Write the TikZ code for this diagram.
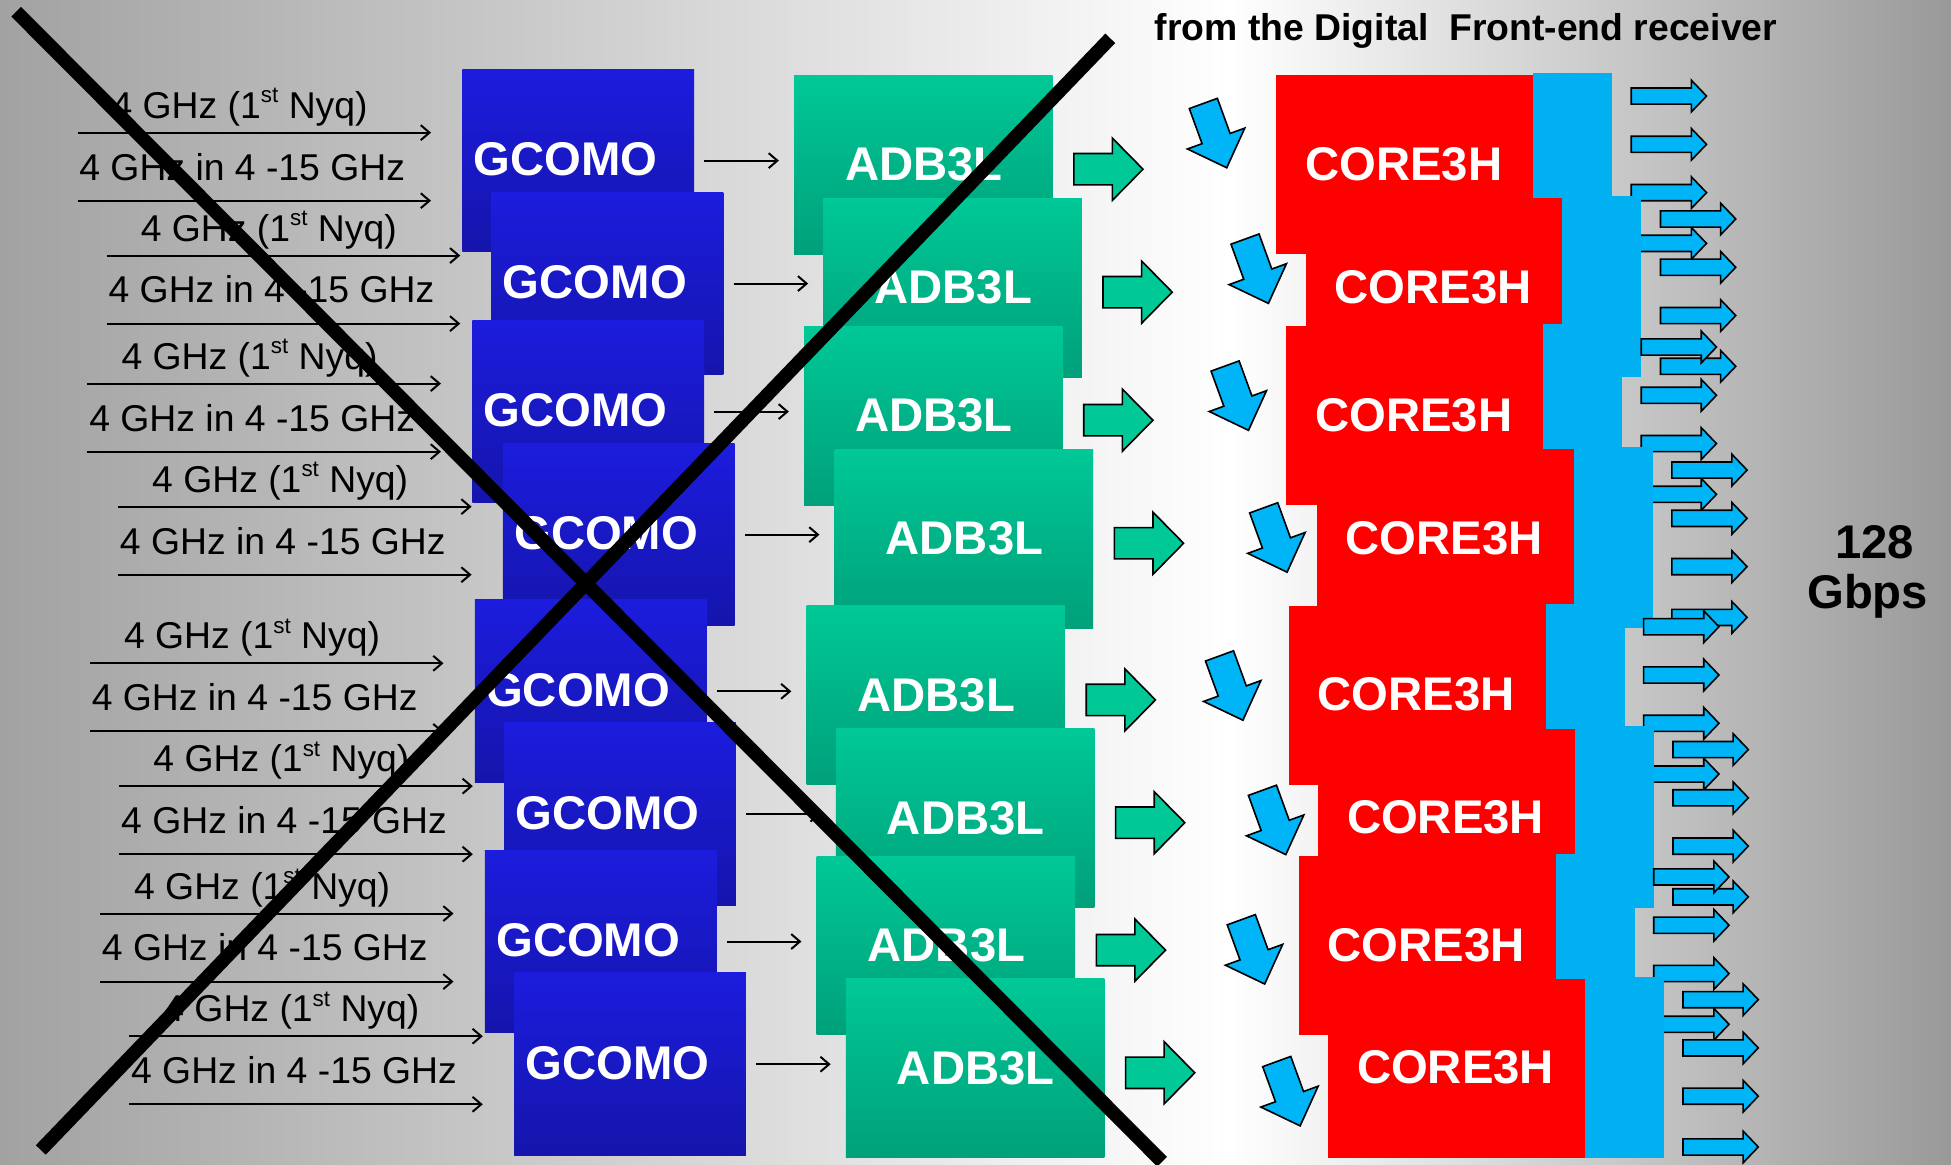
\documentclass[tikz,border=0pt]{standalone}
\usepackage{fontspec}
\setmainfont{Liberation Sans}
\usetikzlibrary{arrows.meta}

\definecolor{gcomoTop}{HTML}{1C1CDE}
\definecolor{gcomoBot}{HTML}{1515AC}
\definecolor{adbTop}{HTML}{00C896}
\definecolor{adbBot}{HTML}{00A07A}
\definecolor{coreRed}{HTML}{FF0000}
\definecolor{coreBlue}{HTML}{00B0F0}
\definecolor{arrowBlue}{HTML}{00B4F8}
\definecolor{arrowGreen}{HTML}{00C896}
\definecolor{bgEdgeL}{HTML}{A2A2A2}
\definecolor{bgEdgeR}{HTML}{999999}

\tikzset{
  feed/.style={line width=1.6pt, -{Straight Barb[length=7pt,width=12pt]}},
  gbox/.style={anchor=north west, inner sep=0pt, minimum width=186.3pt, minimum height=146.8pt, top color=gcomoTop, bottom color=gcomoBot},
  abox/.style={anchor=north west, inner sep=0pt, minimum width=207.7pt, minimum height=143.7pt, top color=adbTop, bottom color=adbBot},
  cbox/.style={anchor=north west, inner sep=0pt, minimum width=206.4pt, minimum height=143.7pt, fill=coreRed},
  cstrip/.style={anchor=north west, inner sep=0pt, minimum width=63.5pt, minimum height=145.6pt, fill=coreBlue},
  boxtext/.style={anchor=base west, inner sep=0pt, text=white, font=\fontsize{38}{38}\selectfont\bfseries},
  intext/.style={anchor=base west, inner sep=0pt, font=\fontsize{30}{30}\selectfont},
  garrow/.style={draw=black, line width=1.3pt, fill=arrowGreen},
  barrow/.style={draw=black, line width=1.3pt, fill=arrowBlue},
  cross/.style={line width=11pt, draw=black},
  headline/.style={anchor=base west, inner sep=0pt, font=\fontsize{30}{30}\selectfont\bfseries},
  ratetext/.style={anchor=base, inner sep=0pt, font=\fontsize{38}{38}\selectfont\bfseries},
}

\begin{document}
\begin{tikzpicture}[x=1pt, y=-1pt]
\useasboundingbox (0,0) rectangle (1568,936);

% background
\shade[left color=bgEdgeL, right color=white] (0,0) rectangle (990,936);
\shade[left color=white, right color=bgEdgeR] (990,0) rectangle (1568,936);

% eight receiver chains, each a shifted copy of the first
\foreach \dx/\dy/\bx/\by [count=\k] in {0/0/976.5/109, 23.5/98.8/1010/218, 8/201.7/994/320, 32.6/300.6/1025/434, 10/426.5/989.5/553, 33.6/525.2/1024/661, 18.1/627.6/1007/765, 41.6/726.2/1035.5/879} {
  \begin{scope}[shift={(\dx,\dy)}]
    % inputs
    \node[intext] (nyq\k) at (89.5,95) {4 GHz (1\raisebox{0.42em}{\fontsize{18}{18}\selectfont st} Nyq)};
    \node[intext] (band\k) at (63.6,144.7) {4 GHz in 4 -15 GHz};
    \coordinate (srcA\k) at (62.3,106.6);
    \coordinate (srcB\k) at (62.3,161.3);
    % GCOMO
    \node[gbox] (g\k) at (371.4,55.5) {};
    \node[boxtext] (gt\k) at (380.5,141.2) {GCOMO};
    \draw[feed, shorten >=25pt] (srcA\k) -- (g\k.west |- srcA\k);
    \draw[feed, shorten >=25pt] (srcB\k) -- (g\k.west |- srcB\k);
    % ADB3L
    \node[abox] (a\k) at (638,60.3) {};
    \node[boxtext] (at\k) at (679,145.2) {ADB3L};
    \draw[feed, shorten <=8pt, shorten >=12pt] (g\k.east) -- (a\k.west |- g\k.east);
    % green block arrow
    \draw[garrow] (863,136) ++(0,-12.6) -- ++(31,0) -- ++(0,-12.4) -- ++(24.6,25)
      -- ++(-24.6,25) -- ++(0,-12.4) -- ++(-31,0) -- cycle;
    % CORE3H with its blue strip
    \node[cbox] (c\k) at (1025.6,60.3) {};
    \node[cstrip] (s\k) at (1232,58.4) {};
    \node[boxtext] (ct\k) at (1048.8,144.9) {CORE3H};
    % outputs
    \foreach \oy in {77.2,116,154.8,195.6} {
      \draw[barrow] (1311,\oy) ++(0,-6.5) -- ++(48.3,0) -- ++(0,-6.25) -- ++(12.2,12.75)
        -- ++(-12.2,12.75) -- ++(0,-6.25) -- ++(-48.3,0) -- cycle;
    }
  \end{scope}
  % tilted arrow from the front-end receiver
  \draw[barrow, shift={(\bx,\by)}, rotate=-70] (-27.5,-12) -- (2.5,-12) -- (2.5,-24.5)
    -- (27.5,0) -- (2.5,24.5) -- (2.5,12) -- (-27.5,12) -- cycle;
}

% header and rate
\node[headline] (title) at (928,32.3) {from the Digital\ \ Front-end receiver};
\node[ratetext] (rate) at (1506.5,449) {128};
\node[ratetext] (unit) at (1501,489) {Gbps};

% crossing-out strokes
\coordinate (xa1) at (13,9.4);
\coordinate (xa2) at (934,933.7);
\coordinate (xb1) at (892.3,30.8);
\coordinate (xb2) at (32.8,924.2);
\draw[cross] (xa1) -- (xa2);
\draw[cross] (xb1) -- (xb2);
\end{tikzpicture}
\end{document}
